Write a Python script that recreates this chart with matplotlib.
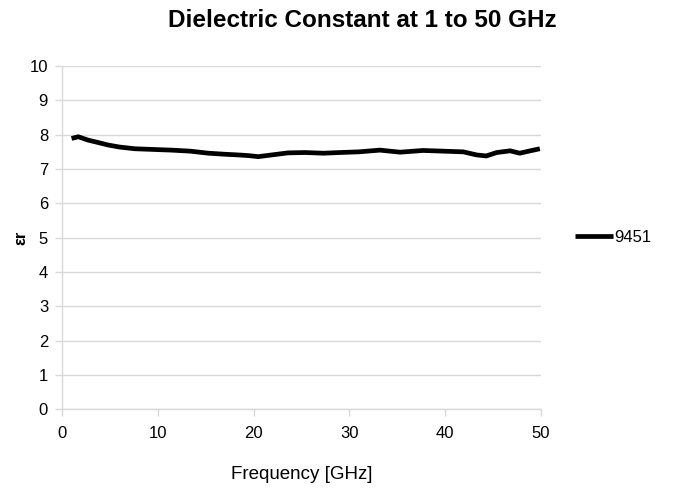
import matplotlib
matplotlib.use("Agg")
import matplotlib.pyplot as plt

freq = [1.0, 1.7, 2.75, 3.8, 4.8, 6.0, 7.6, 9.5, 11.45, 13.4, 15.3, 17.0, 18.4, 19.5, 20.5, 21.9, 23.6, 25.4, 27.3, 29.0, 31.0, 33.2, 35.3, 37.7, 39.8, 41.9, 43.3, 44.3, 45.4, 46.8, 47.8, 48.9, 49.9]
er = [7.89, 7.94, 7.84, 7.77, 7.70, 7.64, 7.59, 7.57, 7.55, 7.52, 7.46, 7.43, 7.41, 7.39, 7.36, 7.41, 7.47, 7.48, 7.46, 7.48, 7.50, 7.55, 7.49, 7.54, 7.52, 7.50, 7.41, 7.38, 7.48, 7.53, 7.46, 7.53, 7.59]
series_name = "9451"
xticks = [0, 10, 20, 30, 40, 50]
yticks = list(range(0, 11))

font = "Liberation Sans"

fig = plt.figure(figsize=(6.76, 4.93), dpi=100)
ax = fig.add_axes([0.0917, 0.170, 0.7083, 0.696])
ax.plot(freq, er, color="black", lw=3.4, label=series_name, solid_capstyle="butt")
ax.set_xlim(0, 50)
ax.set_ylim(0, 10)
ax.set_xticks(xticks)
ax.set_yticks(yticks)
ax.grid(axis="y", color="#d9d9d9", lw=1)
ax.set_axisbelow(True)
for s in ["top", "right"]:
    ax.spines[s].set_visible(False)
for s in ["left", "bottom"]:
    ax.spines[s].set_color("#d9d9d9")
    ax.spines[s].set_linewidth(1)
ax.tick_params(colors="#d9d9d9", length=5, width=1, labelcolor="black", labelsize=12)
ax.tick_params(axis="x", pad=7)
ax.tick_params(axis="y", pad=5)
for lab in ax.get_xticklabels() + ax.get_yticklabels():
    lab.set_fontfamily(font)
ax.set_xlabel("Frequency [GHz]", fontsize=13.5, fontfamily=font)
ax.xaxis.set_label_coords(0.5, -0.165)
ax.set_ylabel("εr", fontsize=12, fontweight="bold", fontfamily=font, va="center")
ax.yaxis.set_label_coords(-0.086, 0.5)
fig.text(0.536, 0.958, "Dielectric Constant at 1 to 50 GHz", ha="center", va="center",
         fontsize=17.5, fontweight="bold", fontfamily=font)
leg = ax.legend(loc="center left", bbox_to_anchor=(1.04, 0.5), frameon=False,
                handlelength=2.3, handletextpad=0.05, prop={"family": font, "size": 12})
fig.savefig("out.png", dpi=100)
